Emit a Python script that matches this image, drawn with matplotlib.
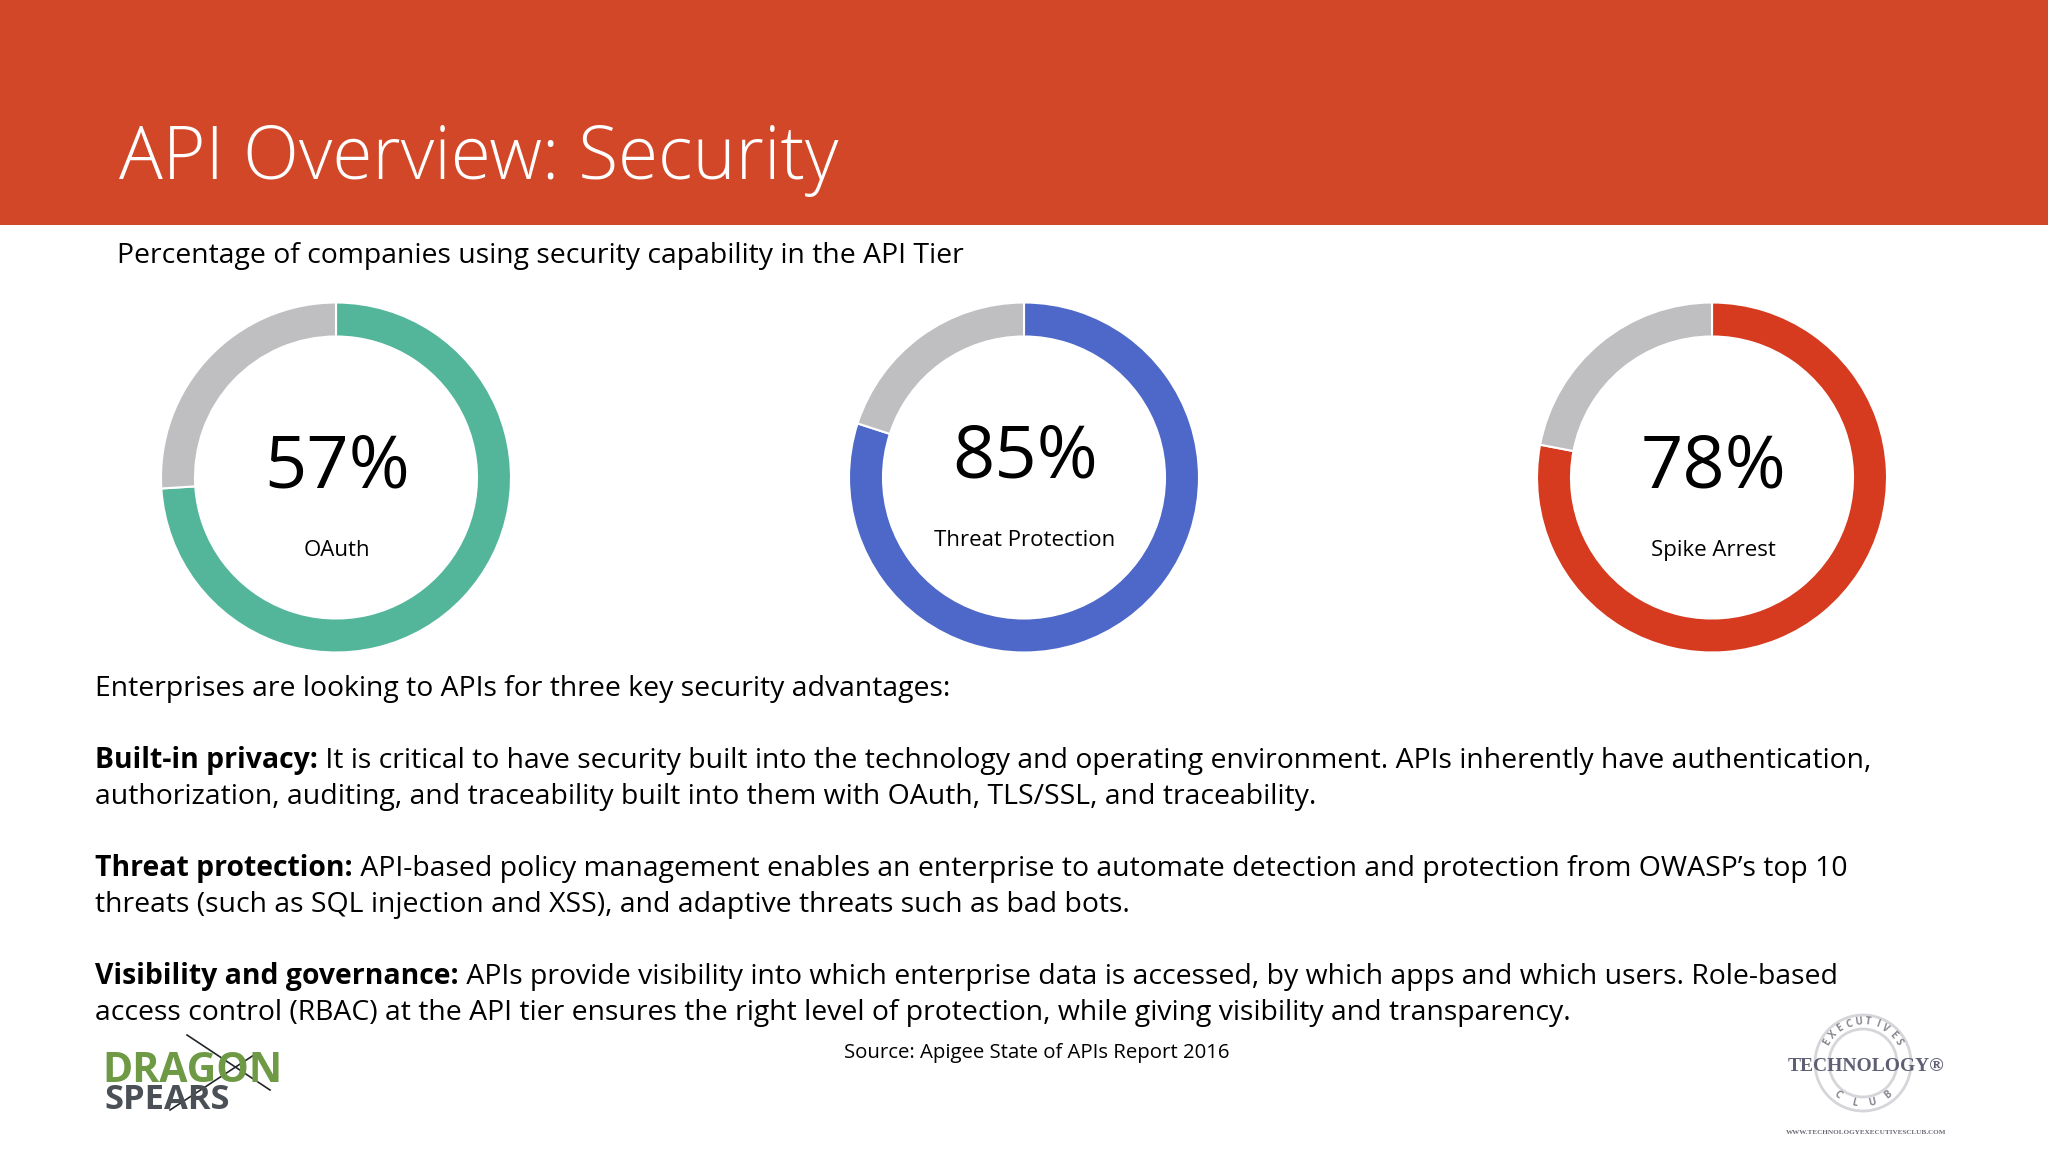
import matplotlib
matplotlib.use("Agg")
import numpy as np
import matplotlib.pyplot as plt
from matplotlib.patches import Circle, Rectangle
from matplotlib.lines import Line2D

W, H = 2048, 1152

# drawn arc sizes differ from the printed labels in the original slide
arc_values = [74, 80, 78]
pct_labels = ["57%", "85%", "78%"]
names = ["OAuth", "Threat Protection", "Spike Arrest"]
colors = ["#53B69A", "#4D68C8", "#D63B20"]
GREY = "#BFBEC1"
HEADER = "#D24727"

title = "API Overview: Security"
subtitle = "Percentage of companies using security capability in the API Tier"
intro = "Enterprises are looking to APIs for three key security advantages:"
paragraphs = [
    ("Built-in privacy:", " It is critical to have security built into the technology and operating environment. APIs inherently have authentication,",
     "authorization, auditing, and traceability built into them with OAuth, TLS/SSL, and traceability."),
    ("Threat protection:", " API-based policy management enables an enterprise to automate detection and protection from OWASP\u2019s top 10",
     "threats (such as SQL injection and XSS), and adaptive threats such as bad bots."),
    ("Visibility and governance:", " APIs provide visibility into which enterprise data is accessed, by which apps and which users. Role-based",
     "access control (RBAC) at the API tier ensures the right level of protection, while giving visibility and transparency."),
]
source = "Source: Apigee State of APIs Report 2016"

plt.rcParams["font.family"] = ["Open Sans", "DejaVu Sans"]
fig = plt.figure(figsize=(W / 100, H / 100), dpi=100, facecolor="white")


def put(x, y, s, px, **kw):
    # x, y in image pixels, y is the baseline
    kw.setdefault("va", "baseline")
    kw.setdefault("color", "black")
    return fig.text(x / W, 1 - y / H, s, fontsize=px * 0.72, **kw)


fig.add_artist(Rectangle((0, 1 - 224.5 / H), 1, 224.5 / H, transform=fig.transFigure, color=HEADER, lw=0))
put(119, 179, title, 73, color="white", fontweight="light")
put(117, 263, subtitle, 28.4)

# donuts
centers = [(336, 477.5), (1024, 477.5), (1712, 477.5)]
R = 175
for (cx, cy), v, c in zip(centers, arc_values, colors):
    ax = fig.add_axes([(cx - R) / W, 1 - (cy + R) / H, 2 * R / W, 2 * R / H])
    ax.pie([v, 100 - v], colors=[c, GREY], startangle=90, counterclock=False, radius=1,
           wedgeprops=dict(width=34 / R, edgecolor="white", linewidth=1.5))
    ax.set_xlim(-1, 1)
    ax.set_ylim(-1, 1)
    ax.axis("off")

pct_base = [488, 478, 488]
name_base = [556, 546, 556]
for (cx, cy), p, n, pb, nb in zip(centers, pct_labels, names, pct_base, name_base):
    put(cx + 1, pb, p, 74, ha="center")
    put(cx + 1, nb, n, 22.3, ha="center")

# body text
put(95, 696, intro, 28.4)
renderer = fig.canvas.get_renderer()
first_base = [768, 876, 984]
for (bold, rest, second), y in zip(paragraphs, first_base):
    t = put(95, y, bold, 28.4, fontweight="bold")
    x1 = t.get_window_extent(renderer).x1
    put(x1, y, rest, 28.4)
    put(95, y + 36, second, 28.4)

put(1037, 1058, source, 20.4, ha="center")

# Dragon Spears logo
put(102, 1082, "DRAGON", 41, color="#6F9A45", fontweight="bold")
put(104, 1109, "SPEARS", 34.5, color="#4B5057", fontweight="bold")
for xs, ys in [((187, 270), (1035, 1090)), ((257, 170), (1053, 1110))]:
    fig.add_artist(Line2D([x / W for x in xs], [1 - y / H for y in ys], color="#22262B", lw=1.2))

# Technology Executives Club logo
lx, ly = 1863, 1063
for r in (48, 34):
    fig.add_artist(Circle((lx, H - ly), r, transform=None, fill=False, ec="#D5D5DA", lw=2))
for word, a0, a1 in [("EXECUTIVES", 150, 30), ("CLUB", 232, 308)]:
    for ch, a in zip(word, np.linspace(a0, a1, len(word))):
        rad = np.radians(a)
        rot = a - 90 if a < 180 else a + 90
        fig.text((lx + 41 * np.cos(rad)) / W, (H - ly + 41 * np.sin(rad)) / H, ch, fontsize=7,
                 color="#858590", ha="center", va="center", rotation=rot, fontweight="bold")
put(1866, 1071, "TECHNOLOGY\u00ae", 19.5, ha="center", color="#5E5E74", fontweight="bold",
    family=["Liberation Serif"])
put(1866, 1134, "WWW.TECHNOLOGYEXECUTIVESCLUB.COM", 7.2, ha="center", color="#6A6A74",
    fontweight="bold", family=["Liberation Serif"])

fig.savefig("out.png", dpi=100)
